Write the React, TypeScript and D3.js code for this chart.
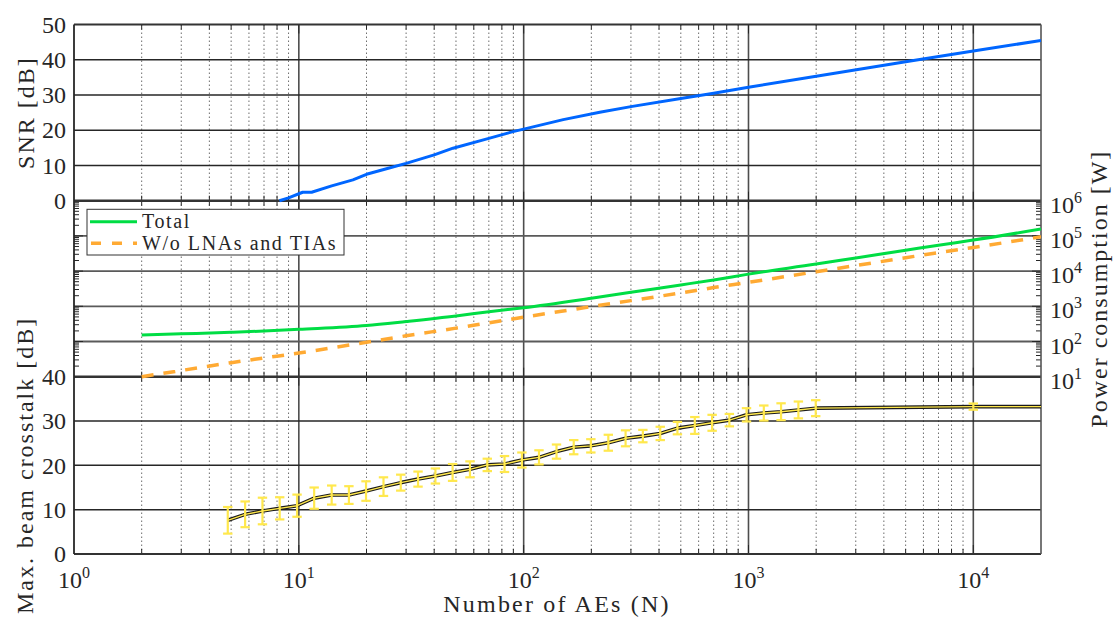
import React from 'react';
import * as d3 from 'd3';

// SNR (top panel)
const snrN = [8.2, 9, 10.4, 11.4, 14, 17.4, 20, 25, 30, 40, 48.5, 70, 89.6, 100, 150, 218, 300, 500, 700, 1000, 2000, 5000, 10000, 20000];
const snrDb = [0, 0.8, 2.4, 2.4, 4.2, 5.9, 7.5, 9.2, 10.6, 13.0, 14.9, 17.7, 19.6, 20.3, 23.0, 25.1, 26.7, 29.0, 30.5, 32.2, 35.3, 39.4, 42.5, 45.45];

// power consumption (middle panel)
const powN = [2, 3, 5, 7, 10, 20, 30, 50, 70, 100, 200, 300, 500, 700, 1000, 2000, 3000, 5000, 7000, 10000, 20000];
const powTotal = [153, 165, 182, 198, 222, 285, 370, 530, 700, 912, 1700, 2500, 4050, 5600, 8200, 15800, 23600, 39000, 54500, 76000, 157000];
const powNoLna = [10, 15, 25, 34, 47, 95, 145, 240, 340, 490, 980, 1450, 2400, 3400, 4800, 9600, 14400, 24000, 33500, 47000, 94000];

// max. beam crosstalk (bottom panel)
const xtN = [4.83, 5.77, 6.89, 8.22, 9.82, 11.7, 14.0, 16.7, 19.9, 23.8, 28.4, 33.9, 40.5, 48.3, 57.7, 68.9, 82.2, 98.2, 117, 140, 167, 199, 238, 284, 339, 405, 483, 577, 689, 822, 980, 1170, 1396, 1667, 1991, 10000, 20000];
const xtDb = [7.6, 8.95, 9.7, 10.3, 10.9, 12.6, 13.3, 13.3, 14.2, 15.2, 16.1, 16.9, 17.6, 18.4, 19.1, 20.1, 20.3, 21.2, 21.8, 23.1, 24.1, 24.4, 25.1, 26.1, 26.6, 27.2, 28.4, 29.0, 29.6, 30.2, 31.4, 31.8, 32.1, 32.5, 32.9, 33.25, 33.25];
const xtErr = [3.0, 2.9, 3.0, 2.5, 2.5, 2.4, 2.15, 2.0, 2.2, 2.1, 1.8, 1.7, 1.7, 1.9, 1.8, 1.4, 1.8, 1.7, 1.6, 1.6, 1.6, 1.5, 1.8, 1.8, 1.4, 1.5, 1.4, 1.9, 1.8, 1.4, 1.5, 1.7, 1.9, 1.9, 1.8, 0.7, 0];

const snrTicks = [0, 10, 20, 30, 40, 50];
const xtTicks = [0, 10, 20, 30, 40];
const powExp = [1, 2, 3, 4, 5, 6];
const xExp = [0, 1, 2, 3, 4];

const W = 1114;
const H = 618;
const left = 74;
const right = 1041;
const top1 = 24.5;
const mid1 = 200.7;
const mid2 = 376.7;
const bottom = 554;

const font = '"Liberation Serif", "DejaVu Serif", "Noto Serif", Tinos, FreeSerif, "Nimbus Roman", "Nimbus Roman No9 L", Times, serif';
const ink = '#262626';
const txt = { fontFamily: font, fill: ink } as React.CSSProperties;

const x = d3.scaleLog().domain([1, 2e4]).range([left, right]);
const ySnr = d3.scaleLinear().domain([0, 50]).range([mid1, top1]);
const yPow = d3.scaleLog().domain([10, 1e6]).range([mid2, mid1]);
const yXt = d3.scaleLinear().domain([0, 40]).range([bottom, mid2]);

const isDecade = (v: number) => Math.abs(Math.log10(v) - Math.round(Math.log10(v))) < 1e-9;

export default function App() {
  const xTicks = x.ticks().filter(t => t < 2e4);
  const xMinor = xTicks.filter(t => !isDecade(t));
  const xMajor = xTicks.filter(t => isDecade(t) && t > 1);
  const powTicks = yPow.ticks();

  const snrLine = d3.line<number>().x((d, i) => x(snrN[i])).y(d => ySnr(d));
  const totalLine = d3.line<number>().x((d, i) => x(powN[i])).y(d => yPow(d)).curve(d3.curveMonotoneX);
  const noLnaLine = d3.line<number>().x((d, i) => x(powN[i])).y(d => yPow(d)).curve(d3.curveMonotoneX);
  const xtLine = d3.line<number>().x((d, i) => x(xtN[i])).y(d => yXt(d));

  const edges = [top1, mid1, mid2, bottom];

  return (
    <svg width={W} height={H} style={{ position: 'fixed', left: 0, top: 0, background: '#fff', fontFamily: font }}>
      <rect width={W} height={H} fill="#fff" />
      <defs>
        <clipPath id="clipTop"><rect x={left} y={top1 - 3} width={right - left} height={mid1 - top1 + 6} /></clipPath>
        <clipPath id="clipMid"><rect x={left} y={mid1} width={right - left} height={mid2 - mid1 + 4} /></clipPath>
      </defs>

      {/* vertical grid */}
      {xMinor.map(t => (
        <line key={'vm' + t} x1={x(t)} x2={x(t)} y1={top1} y2={bottom} stroke="#555" strokeWidth={1} strokeDasharray="1.5,2.5" opacity={0.85} />
      ))}
      {xMajor.map(t => (
        <line key={'vM' + t} x1={x(t)} x2={x(t)} y1={top1} y2={bottom} stroke="#4d4d4d" strokeWidth={1.6} />
      ))}

      {/* horizontal grid */}
      {snrTicks.slice(1, -1).map(t => (
        <line key={'hs' + t} x1={left} x2={right} y1={ySnr(t)} y2={ySnr(t)} stroke={ink} strokeWidth={1.5} />
      ))}
      {powExp.slice(1, -1).map(e => (
        <line key={'hp' + e} x1={left} x2={right} y1={yPow(10 ** e)} y2={yPow(10 ** e)} stroke="#5a5a5a" strokeWidth={1.8} />
      ))}
      {xtTicks.slice(1, -1).map(t => (
        <line key={'hx' + t} x1={left} x2={right} y1={yXt(t)} y2={yXt(t)} stroke={ink} strokeWidth={1.5} />
      ))}

      {/* x ticks on every panel edge */}
      {edges.map((ey, k) => (
        <g key={'et' + k}>
          {xTicks.filter(t => t > 1).map(t => {
            const len = isDecade(t) ? 9 : 5;
            const up = k > 0 ? len : 0;
            const down = k < 3 ? len : 0;
            return <line key={t} x1={x(t)} x2={x(t)} y1={ey - up} y2={ey + down} stroke={ink} strokeWidth={1} />;
          })}
        </g>
      ))}

      {/* log minor ticks on middle panel edges */}
      {powTicks.map(t => {
        const len = isDecade(t) ? 9 : 5;
        return (
          <g key={'pt' + t}>
            <line x1={left} x2={left + len} y1={yPow(t)} y2={yPow(t)} stroke={ink} strokeWidth={1} />
            <line x1={right - len} x2={right} y1={yPow(t)} y2={yPow(t)} stroke={ink} strokeWidth={1} />
          </g>
        );
      })}

      {/* frame */}
      {edges.map((ey, k) => (
        <line key={'fr' + k} x1={left} x2={right} y1={ey} y2={ey} stroke="#333" strokeWidth={k === 1 || k === 2 ? 2.6 : 1.8} />
      ))}
      <line x1={left} x2={left} y1={top1} y2={bottom} stroke={ink} strokeWidth={1.8} />
      <line x1={right} x2={right} y1={top1} y2={bottom} stroke="#555" strokeWidth={1.6} />

      {/* SNR curve */}
      <path d={snrLine(snrDb) ?? ''} fill="none" stroke="#0066ff" strokeWidth={3} strokeLinejoin="round" clipPath="url(#clipTop)" />

      {/* power curves */}
      <g clipPath="url(#clipMid)">
        <path d={totalLine(powTotal) ?? ''} fill="none" stroke="#00dd44" strokeWidth={3} />
        <path d={noLnaLine(powNoLna) ?? ''} fill="none" stroke="#ffaa33" strokeWidth={3.5} strokeDasharray="12,10" />
      </g>

      {/* crosstalk with error bars */}
      <path d={xtLine(xtDb) ?? ''} fill="none" stroke="#1a1a1a" strokeWidth={3.6} strokeLinejoin="round" />
      <path d={xtLine(xtDb) ?? ''} fill="none" stroke="#ffe84d" strokeWidth={1.4} strokeLinejoin="round" />
      {xtDb.map((v, i) => {
        if (xtErr[i] <= 0) return null;
        const cx = x(xtN[i]);
        const y0 = yXt(v - xtErr[i]);
        const y1 = yXt(v + xtErr[i]);
        return (
          <g key={'eb' + i} stroke="#ffe84d" strokeWidth={2.2}>
            <line x1={cx} x2={cx} y1={y0} y2={y1} />
            <line x1={cx - 4.7} x2={cx + 4.7} y1={y0} y2={y0} />
            <line x1={cx - 4.7} x2={cx + 4.7} y1={y1} y2={y1} />
          </g>
        );
      })}

      {/* legend */}
      <g>
        <rect x={87} y={209.3} width={257} height={45.7} fill="#fff" stroke="#333" strokeWidth={1} />
        <line x1={90} x2={137} y1={221.7} y2={221.7} stroke="#00dd44" strokeWidth={3} />
        <line x1={90} x2={137} y1={243.3} y2={243.3} stroke="#ffaa33" strokeWidth={3.5} strokeDasharray="10,11" strokeDashoffset={-1} />
        <text x={142} y={228} fontSize={20} letterSpacing={1.6} style={txt}>Total</text>
        <text x={142} y={250} fontSize={20} letterSpacing={1.6} style={txt}>W/o LNAs and TIAs</text>
      </g>

      {/* left tick labels */}
      {snrTicks.map(t => (
        <text key={'ls' + t} x={66} y={ySnr(t)} dy="0.34em" textAnchor="end" fontSize={24} style={txt}>{t}</text>
      ))}
      {xtTicks.map(t => (
        <text key={'lx' + t} x={66} y={yXt(t)} dy="0.34em" textAnchor="end" fontSize={24} style={txt}>{t}</text>
      ))}

      {/* right tick labels */}
      {powExp.map(e => (
        <text key={'rp' + e} x={1050} y={yPow(10 ** e) + 12} fontSize={24} style={txt}>
          10<tspan dy={-10} fontSize={16}>{e}</tspan>
        </text>
      ))}

      {/* x tick labels */}
      {xExp.map(e => (
        <text key={'bx' + e} x={x(10 ** e)} y={588} textAnchor="middle" fontSize={24} style={txt}>
          10<tspan dy={-10} fontSize={16}>{e}</tspan>
        </text>
      ))}

      {/* axis labels */}
      <text x={557} y={612} textAnchor="middle" fontSize={24} letterSpacing={2.2} style={txt}>Number of AEs (N)</text>
      <text transform={`translate(34,${(top1 + mid1) / 2}) rotate(-90)`} textAnchor="middle" fontSize={24} letterSpacing={2} style={txt}>SNR [dB]</text>
      <text transform={`translate(33,${(mid2 + bottom) / 2}) rotate(-90)`} textAnchor="middle" fontSize={24} letterSpacing={2} style={txt}>Max. beam crosstalk [dB]</text>
      <text transform={`translate(1107,${(mid1 + mid2) / 2}) rotate(-90)`} textAnchor="middle" fontSize={24} letterSpacing={2} style={txt}>Power consumption [W]</text>
    </svg>
  );
}
